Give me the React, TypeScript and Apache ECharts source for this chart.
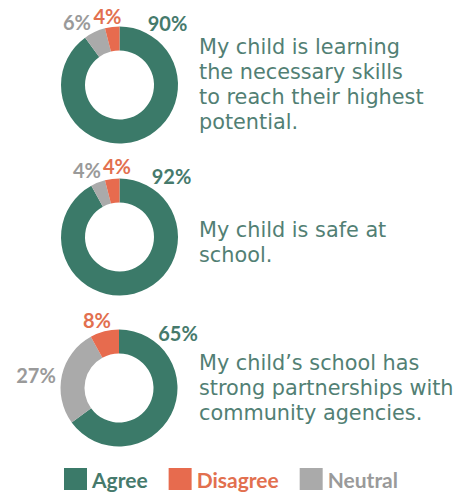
import React, { useEffect, useRef } from "react";
import * as echarts from "echarts";

const categories = ["Agree", "Disagree", "Neutral"];
const statements = [
  "My child is learning\nthe necessary skills\nto reach their highest\npotential.",
  "My child is safe at\nschool.",
  "My child\u2019s school has\nstrong partnerships with\ncommunity agencies.",
];
const agree = [90, 92, 65];
const disagree = [4, 4, 8];
const neutral = [6, 4, 27];

const colors: Record<string, string> = { Agree: "#3b7a69", Disagree: "#e76b4e", Neutral: "#aaaaaa" };
const labelColors: Record<string, string> = { Agree: "#467a6c", Disagree: "#e2704f", Neutral: "#9a9a9a" };

// layout (positions only)
const centers = [[119.5, 85], [119.5, 237], [119, 388]];
// label centers for order [Agree, Neutral, Disagree]
const labelPos = [
  [[167.5, 23], [77, 22], [107.5, 16]],
  [[171.5, 176], [87, 170], [117, 166]],
  [[178, 333], [36, 375], [97, 320]],
];
const textTops = [34.5, 217.5, 350.5];

export default function App() {
  const ref = useRef<HTMLDivElement>(null);
  useEffect(() => {
    document.body.style.margin = "0";
    const chart = echarts.init(ref.current!, null, { renderer: "svg" });
    const series = agree.map((a, i) => ({
      type: "pie",
      center: centers[i],
      radius: [34.5, 58.5],
      startAngle: 90,
      clockwise: true,
      avoidLabelOverlap: false,
      silent: true,
      label: {
        show: true,
        position: "outside",
        formatter: "{c}%",
        fontFamily: "Lato",
        fontWeight: "bold",
        fontSize: 20,
      },
      labelLine: { show: false },
      labelLayout: (p: any) => {
        const pos = labelPos[p.seriesIndex][p.dataIndex];
        return { x: pos[0], y: pos[1], align: "center", verticalAlign: "middle" };
      },
      data: [
        { name: "Agree", value: a },
        { name: "Neutral", value: neutral[i] },
        { name: "Disagree", value: disagree[i] },
      ].map((d) => ({
        ...d,
        itemStyle: { color: colors[d.name] },
        label: { color: labelColors[d.name] },
      })),
    }));
    chart.setOption({
      animation: false,
      legend: {
        left: 64,
        top: 468,
        itemWidth: 23,
        itemHeight: 22,
        itemGap: 21,
        icon: "rect",
        selectedMode: false,
        padding: 0,
        data: categories.map((c) => ({
          name: c,
          textStyle: { color: labelColors[c], fontFamily: "Lato", fontWeight: "bold", fontSize: 21 },
        })),
      },
      graphic: statements.map((s, i) => ({
        type: "text",
        left: 199,
        top: textTops[i],
        style: {
          text: s,
          fill: "#527f74",
          font: "20.8px 'DejaVu Sans'",
          lineHeight: 25,
        },
      })),
      series,
    });
    return () => chart.dispose();
  }, []);
  return <div ref={ref} style={{ width: 471, height: 494 }} />;
}
